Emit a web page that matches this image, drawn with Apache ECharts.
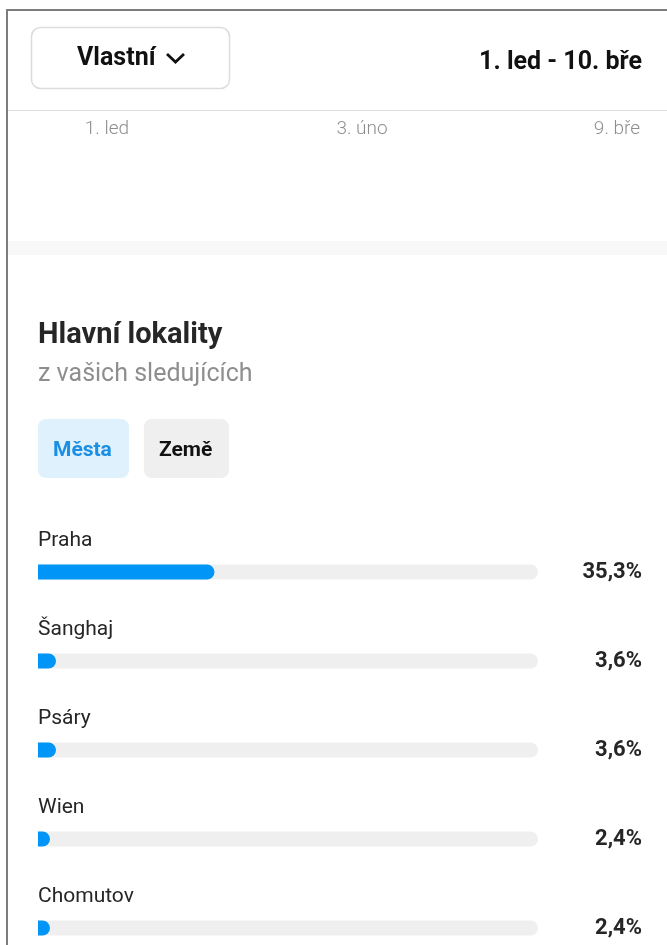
<!DOCTYPE html>
<html>
<head>
<meta charset="utf-8">
<script src="https://cdn.jsdelivr.net/npm/echarts@6/dist/echarts.min.js"></script>
<style>
  html, body { margin: 0; padding: 0; background: #fff; }
  #chart { width: 667px; height: 945px; }
</style>
</head>
<body>
<div id="chart"></div>
<script>
// top date axis (cut-off growth chart)
const dateLabels = ['1. led', '3. úno', '9. bře'];
// hlavní lokality
const cities = ['Praha', 'Šanghaj', 'Psáry', 'Wien', 'Chomutov'];
const shares = [35.3, 3.6, 3.6, 2.4, 2.4];

const fmtPct = v => v.toFixed(1).replace('.', ',') + '%';
const FONT = 'Roboto, "Noto Sans", sans-serif';

let myChart = echarts.init(document.getElementById('chart'));

// small helper for plain ui texts
function txt(x, y, text, font, fill, align) {
    return {
        type: 'text', x: x, y: y,
        style: { text: text, font: font, fill: fill, align: align || 'left', verticalAlign: 'middle' }
    };
}

let option = {
    backgroundColor: '#fff',
    animation: false,
    textStyle: { fontFamily: FONT },
    graphic: [
        // frame
        { type: 'rect', shape: { x: 6, y: 9, width: 661, height: 2 }, style: { fill: '#7d7d7d' } },
        { type: 'rect', shape: { x: 6, y: 9, width: 2, height: 936 }, style: { fill: '#7d7d7d' } },
        // Vlastní button
        { type: 'rect', shape: { x: 31.5, y: 27.5, width: 198, height: 61, r: 9 },
          style: { fill: '#fff', stroke: '#dcdcdc', lineWidth: 1.5 } },
        txt(77, 58.5, 'Vlastní', 'bold 25px ' + FONT, '#111'),
        { type: 'polyline', shape: { points: [[167, 54], [175.5, 62], [184, 54]] },
          style: { stroke: '#111', lineWidth: 2.8, fill: null } },
        txt(642, 62.5, '1. led - 10. bře', 'bold 25px ' + FONT, '#111', 'right'),
        // separator + band
        { type: 'rect', shape: { x: 8, y: 110, width: 659, height: 1 }, style: { fill: '#dedede' } },
        { type: 'rect', shape: { x: 8, y: 241, width: 659, height: 14 }, style: { fill: '#f8f8f8' } },
        // section heading
        txt(38, 336, 'Hlavní lokality', 'bold 29px ' + FONT, '#262626'),
        txt(38, 375, 'z vašich sledujících', '25px ' + FONT, '#8e8e8e'),
        // tabs
        { type: 'rect', shape: { x: 38, y: 419, width: 91, height: 59, r: 8 }, style: { fill: '#e0f1fe' } },
        txt(53, 450.5, 'Města', 'bold 21px ' + FONT, '#1a8fe3'),
        { type: 'rect', shape: { x: 144, y: 419, width: 85, height: 59, r: 8 }, style: { fill: '#efefef' } },
        txt(159, 450.5, 'Země', 'bold 21px ' + FONT, '#111')
    ],
    grid: [
        { left: 38, right: 129, top: 527.5, height: 445, outerBoundsMode: 'none' },
        { left: 107, right: 50, top: 60, height: 50, outerBoundsMode: 'none' }
    ],
    xAxis: [
        { type: 'value', gridIndex: 0, min: 0, max: 100, show: false },
        {
            type: 'category', gridIndex: 1, boundaryGap: false, data: dateLabels,
            axisLine: { show: false }, axisTick: { show: false },
            axisLabel: { interval: 0, margin: 10, color: '#8e8e8e', fontSize: 19,
                         fontWeight: 300, fontFamily: FONT }
        }
    ],
    yAxis: [
        {
            type: 'category', gridIndex: 0, inverse: true, data: cities,
            axisLine: { show: false }, axisTick: { show: false }, axisLabel: { show: false }
        },
        {
            type: 'category', gridIndex: 0, inverse: true, position: 'right',
            data: shares.map(fmtPct),
            axisLine: { show: false }, axisTick: { show: false },
            axisLabel: { align: 'right', margin: 104, padding: [0, 0, 5, 0], color: '#262626',
                         fontSize: 22, fontWeight: 'bold', fontFamily: FONT }
        },
        { type: 'value', gridIndex: 1, show: false }
    ],
    series: [
        {
            type: 'bar',
            xAxisIndex: 0,
            yAxisIndex: 0,
            data: shares,
            barWidth: 15,
            itemStyle: { color: '#0095f6', borderRadius: [0, 8, 8, 0] },
            showBackground: true,
            backgroundStyle: { color: '#efefef', borderRadius: [0, 8, 8, 0] },
            label: {
                show: true,
                formatter: '{b}',
                position: [0, -24],
                verticalAlign: 'middle',
                align: 'left',
                color: '#262626',
                fontSize: 21,
                fontFamily: FONT
            }
        }
    ]
};

myChart.setOption(option, true);
</script>
</body>
</html>
